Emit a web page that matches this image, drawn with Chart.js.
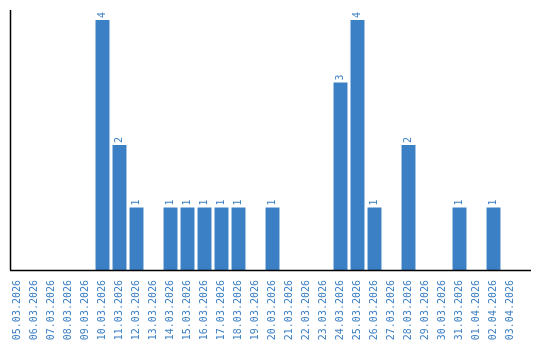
<!DOCTYPE html>
<html>
<head>
<meta charset="utf-8">
<script src="https://cdn.jsdelivr.net/npm/chart.js@4"></script>
<style>
  html, body { margin: 0; padding: 0; background: #fff; }
  #wrap { width: 540px; height: 340px; }
</style>
</head>
<body>
<div id="wrap"><canvas id="myChart"></canvas></div>
<script>
var dates = [
  "05.03.2026", "06.03.2026", "07.03.2026", "08.03.2026", "09.03.2026",
  "10.03.2026", "11.03.2026", "12.03.2026", "13.03.2026", "14.03.2026",
  "15.03.2026", "16.03.2026", "17.03.2026", "18.03.2026", "19.03.2026",
  "20.03.2026", "21.03.2026", "22.03.2026", "23.03.2026", "24.03.2026",
  "25.03.2026", "26.03.2026", "27.03.2026", "28.03.2026", "29.03.2026",
  "30.03.2026", "31.03.2026", "01.04.2026", "02.04.2026", "03.04.2026",
];
var counts = [
  0, 0, 0, 0, 0,
  4, 2, 1, 0, 1,
  1, 1, 1, 1, 0,
  1, 0, 0, 0, 3,
  4, 1, 0, 2, 0,
  0, 1, 0, 1, 0,
];
var yMax = 4.16;

const blue = "#3b7fc4";
const fontFamily = "'DejaVu Sans Mono', monospace";

// value labels above bars, rotated like the tick labels
const valueLabels = {
  id: "valueLabels",
  afterDatasetsDraw(chart) {
    const ctx = chart.ctx;
    const meta = chart.getDatasetMeta(0);
    ctx.save();
    ctx.fillStyle = blue;
    ctx.font = "10px " + fontFamily;
    ctx.textAlign = "left";
    ctx.textBaseline = "middle";
    meta.data.forEach((bar, i) => {
      if (!counts[i]) return;
      ctx.save();
      ctx.translate(bar.x, bar.y - 2);
      ctx.rotate(-Math.PI / 2);
      ctx.fillText(String(counts[i]), 0, 0);
      ctx.restore();
    });
    ctx.restore();
  },
};

// axis lines: y axis on the left, x axis running a bit past the last bar
const axisLines = {
  id: "axisLines",
  afterDraw(chart) {
    const ctx = chart.ctx;
    const area = chart.chartArea;
    ctx.save();
    ctx.strokeStyle = "#000";
    ctx.lineWidth = 1.5;
    ctx.beginPath();
    ctx.moveTo(area.left + 1.5, area.top);
    ctx.lineTo(area.left + 1.5, area.bottom);
    ctx.moveTo(area.left + 1, area.bottom + 0.5);
    ctx.lineTo(chart.width - 9, area.bottom + 0.5);
    ctx.stroke();
    ctx.restore();
  },
};

const ctx = document.getElementById("myChart");
new Chart(ctx, {
  type: "bar",
  data: {
    labels: dates,
    datasets: [
      {
        data: counts,
        backgroundColor: blue,
        borderWidth: 0,
        barPercentage: 0.82,
        categoryPercentage: 1,
      },
    ],
  },
  options: {
    responsive: true,
    maintainAspectRatio: false,
    animation: false,
    layout: { padding: { top: 10, left: 9, right: 21, bottom: 0 } },
    plugins: {
      legend: { display: false },
      tooltip: { enabled: false },
    },
    scales: {
      x: {
        grid: { display: false },
        border: { display: false },
        afterFit(scale) {
          scale.height = 70;
        },
        ticks: {
          color: blue,
          font: { family: fontFamily, size: 10 },
          minRotation: 90,
          maxRotation: 90,
          autoSkip: false,
          padding: 2,
        },
      },
      y: {
        display: false,
        min: 0,
        max: yMax,
      },
    },
  },
  plugins: [valueLabels, axisLines],
});
</script>
</body>
</html>
